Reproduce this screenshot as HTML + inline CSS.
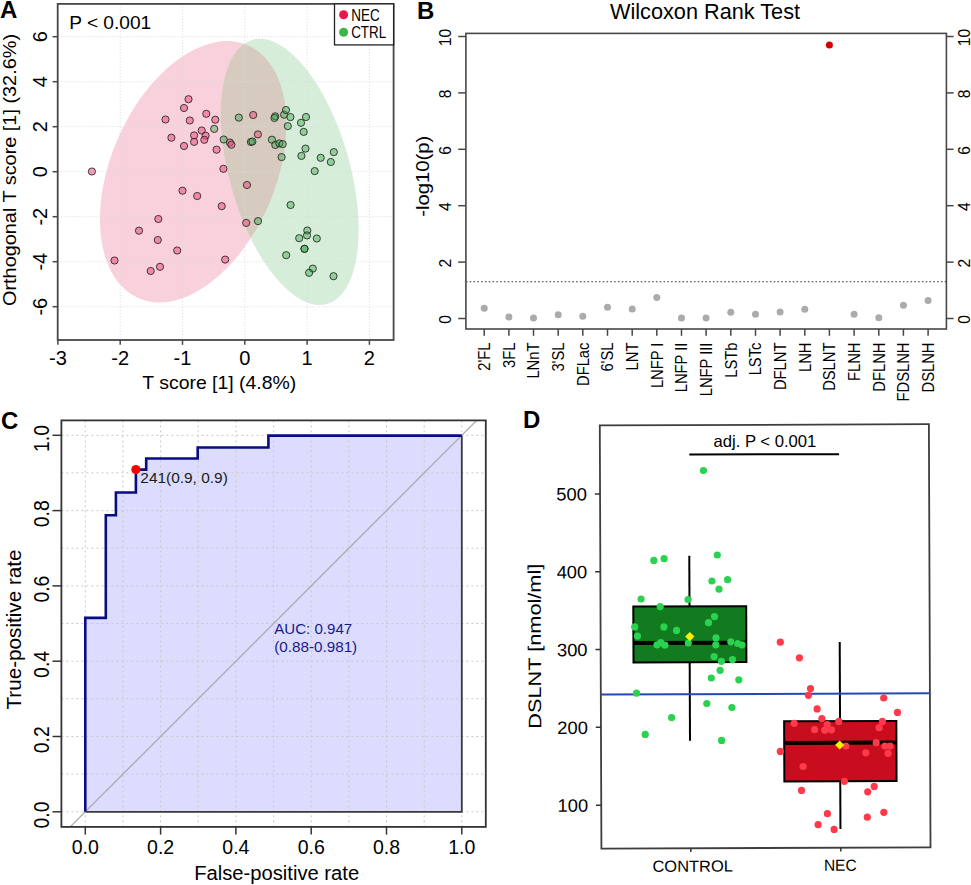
<!DOCTYPE html>
<html><head><meta charset="utf-8"><style>
html,body{margin:0;padding:0;background:#fff;}
svg{display:block;}
text{font-family:"Liberation Sans", sans-serif;}
</style></head><body>
<svg width="971" height="885" viewBox="0 0 971 885">
<rect x="0" y="0" width="971" height="885" fill="#fff"/>

<defs><clipPath id="pclip"><ellipse cx="193.2" cy="171.8" rx="137.8" ry="82.4" transform="rotate(-66.7 193.2 171.8)"/></clipPath></defs>
<ellipse cx="193.2" cy="171.8" rx="137.8" ry="82.4" transform="rotate(-66.7 193.2 171.8)" fill="#f9d1dd"/>
<ellipse cx="289.7" cy="171.85" rx="137.3" ry="60.3" transform="rotate(-105.75 289.7 171.85)" fill="#d6eed9"/>
<g clip-path="url(#pclip)"><ellipse cx="289.7" cy="171.85" rx="137.3" ry="60.3" transform="rotate(-105.75 289.7 171.85)" fill="#d6cbbe"/></g>
<line x1="120.2" y1="3.9" x2="120.2" y2="340.0" stroke="#dadada" stroke-width="1" stroke-dasharray="1 2"/>
<line x1="182.5" y1="3.9" x2="182.5" y2="340.0" stroke="#dadada" stroke-width="1" stroke-dasharray="1 2"/>
<line x1="244.8" y1="3.9" x2="244.8" y2="340.0" stroke="#dadada" stroke-width="1" stroke-dasharray="1 2"/>
<line x1="307.1" y1="3.9" x2="307.1" y2="340.0" stroke="#dadada" stroke-width="1" stroke-dasharray="1 2"/>
<line x1="369.4" y1="3.9" x2="369.4" y2="340.0" stroke="#dadada" stroke-width="1" stroke-dasharray="1 2"/>
<line x1="57.7" y1="306.7" x2="393.6" y2="306.7" stroke="#dadada" stroke-width="1" stroke-dasharray="1 2"/>
<line x1="57.7" y1="261.7" x2="393.6" y2="261.7" stroke="#dadada" stroke-width="1" stroke-dasharray="1 2"/>
<line x1="57.7" y1="216.7" x2="393.6" y2="216.7" stroke="#dadada" stroke-width="1" stroke-dasharray="1 2"/>
<line x1="57.7" y1="171.7" x2="393.6" y2="171.7" stroke="#dadada" stroke-width="1" stroke-dasharray="1 2"/>
<line x1="57.7" y1="126.7" x2="393.6" y2="126.7" stroke="#dadada" stroke-width="1" stroke-dasharray="1 2"/>
<line x1="57.7" y1="81.7" x2="393.6" y2="81.7" stroke="#dadada" stroke-width="1" stroke-dasharray="1 2"/>
<line x1="57.7" y1="36.7" x2="393.6" y2="36.7" stroke="#dadada" stroke-width="1" stroke-dasharray="1 2"/>
<circle cx="91.9" cy="171.5" r="3.6" fill="#ee4f7c" fill-opacity="0.55" stroke="#2a2a2a" stroke-width="0.9"/>
<circle cx="188.5" cy="99.2" r="3.6" fill="#ee4f7c" fill-opacity="0.55" stroke="#2a2a2a" stroke-width="0.9"/>
<circle cx="184.0" cy="108.0" r="3.6" fill="#ee4f7c" fill-opacity="0.55" stroke="#2a2a2a" stroke-width="0.9"/>
<circle cx="165.5" cy="119.5" r="3.6" fill="#ee4f7c" fill-opacity="0.55" stroke="#2a2a2a" stroke-width="0.9"/>
<circle cx="189.8" cy="120.5" r="3.6" fill="#ee4f7c" fill-opacity="0.55" stroke="#2a2a2a" stroke-width="0.9"/>
<circle cx="206.3" cy="113.8" r="3.6" fill="#ee4f7c" fill-opacity="0.55" stroke="#2a2a2a" stroke-width="0.9"/>
<circle cx="215.3" cy="119.7" r="3.6" fill="#ee4f7c" fill-opacity="0.55" stroke="#2a2a2a" stroke-width="0.9"/>
<circle cx="201.7" cy="130.5" r="3.6" fill="#ee4f7c" fill-opacity="0.55" stroke="#2a2a2a" stroke-width="0.9"/>
<circle cx="205.6" cy="135.7" r="3.6" fill="#ee4f7c" fill-opacity="0.55" stroke="#2a2a2a" stroke-width="0.9"/>
<circle cx="204.3" cy="139.8" r="3.6" fill="#ee4f7c" fill-opacity="0.55" stroke="#2a2a2a" stroke-width="0.9"/>
<circle cx="194.1" cy="135.4" r="3.6" fill="#ee4f7c" fill-opacity="0.55" stroke="#2a2a2a" stroke-width="0.9"/>
<circle cx="194.1" cy="141.9" r="3.6" fill="#ee4f7c" fill-opacity="0.55" stroke="#2a2a2a" stroke-width="0.9"/>
<circle cx="171.4" cy="137.7" r="3.6" fill="#ee4f7c" fill-opacity="0.55" stroke="#2a2a2a" stroke-width="0.9"/>
<circle cx="184.0" cy="146.0" r="3.6" fill="#ee4f7c" fill-opacity="0.55" stroke="#2a2a2a" stroke-width="0.9"/>
<circle cx="216.6" cy="149.7" r="3.6" fill="#ee4f7c" fill-opacity="0.55" stroke="#2a2a2a" stroke-width="0.9"/>
<circle cx="229.9" cy="142.5" r="3.6" fill="#ee4f7c" fill-opacity="0.55" stroke="#2a2a2a" stroke-width="0.9"/>
<circle cx="231.4" cy="144.7" r="3.6" fill="#ee4f7c" fill-opacity="0.55" stroke="#2a2a2a" stroke-width="0.9"/>
<circle cx="253.2" cy="115.0" r="3.6" fill="#ee4f7c" fill-opacity="0.55" stroke="#2a2a2a" stroke-width="0.9"/>
<circle cx="257.9" cy="134.4" r="3.6" fill="#ee4f7c" fill-opacity="0.55" stroke="#2a2a2a" stroke-width="0.9"/>
<circle cx="223.4" cy="168.8" r="3.6" fill="#ee4f7c" fill-opacity="0.55" stroke="#2a2a2a" stroke-width="0.9"/>
<circle cx="247.0" cy="185.0" r="3.6" fill="#ee4f7c" fill-opacity="0.55" stroke="#2a2a2a" stroke-width="0.9"/>
<circle cx="182.5" cy="190.7" r="3.6" fill="#ee4f7c" fill-opacity="0.55" stroke="#2a2a2a" stroke-width="0.9"/>
<circle cx="197.2" cy="196.0" r="3.6" fill="#ee4f7c" fill-opacity="0.55" stroke="#2a2a2a" stroke-width="0.9"/>
<circle cx="221.7" cy="206.2" r="3.6" fill="#ee4f7c" fill-opacity="0.55" stroke="#2a2a2a" stroke-width="0.9"/>
<circle cx="246.2" cy="222.9" r="3.6" fill="#ee4f7c" fill-opacity="0.55" stroke="#2a2a2a" stroke-width="0.9"/>
<circle cx="158.3" cy="219.0" r="3.6" fill="#ee4f7c" fill-opacity="0.55" stroke="#2a2a2a" stroke-width="0.9"/>
<circle cx="139.0" cy="230.7" r="3.6" fill="#ee4f7c" fill-opacity="0.55" stroke="#2a2a2a" stroke-width="0.9"/>
<circle cx="157.8" cy="240.0" r="3.6" fill="#ee4f7c" fill-opacity="0.55" stroke="#2a2a2a" stroke-width="0.9"/>
<circle cx="177.2" cy="250.5" r="3.6" fill="#ee4f7c" fill-opacity="0.55" stroke="#2a2a2a" stroke-width="0.9"/>
<circle cx="114.5" cy="260.5" r="3.6" fill="#ee4f7c" fill-opacity="0.55" stroke="#2a2a2a" stroke-width="0.9"/>
<circle cx="160.0" cy="266.8" r="3.6" fill="#ee4f7c" fill-opacity="0.55" stroke="#2a2a2a" stroke-width="0.9"/>
<circle cx="150.7" cy="271.0" r="3.6" fill="#ee4f7c" fill-opacity="0.55" stroke="#2a2a2a" stroke-width="0.9"/>
<circle cx="225.2" cy="259.6" r="3.6" fill="#ee4f7c" fill-opacity="0.55" stroke="#2a2a2a" stroke-width="0.9"/>
<circle cx="214.2" cy="128.9" r="3.6" fill="#3aa84a" fill-opacity="0.45" stroke="#2a2a2a" stroke-width="0.9"/>
<circle cx="238.8" cy="117.6" r="3.6" fill="#3aa84a" fill-opacity="0.45" stroke="#2a2a2a" stroke-width="0.9"/>
<circle cx="223.7" cy="139.5" r="3.6" fill="#3aa84a" fill-opacity="0.45" stroke="#2a2a2a" stroke-width="0.9"/>
<circle cx="250.9" cy="142.0" r="3.6" fill="#3aa84a" fill-opacity="0.45" stroke="#2a2a2a" stroke-width="0.9"/>
<circle cx="252.4" cy="141.5" r="3.6" fill="#3aa84a" fill-opacity="0.45" stroke="#2a2a2a" stroke-width="0.9"/>
<circle cx="271.9" cy="139.7" r="3.6" fill="#3aa84a" fill-opacity="0.45" stroke="#2a2a2a" stroke-width="0.9"/>
<circle cx="275.3" cy="145.0" r="3.6" fill="#3aa84a" fill-opacity="0.45" stroke="#2a2a2a" stroke-width="0.9"/>
<circle cx="279.3" cy="143.4" r="3.6" fill="#3aa84a" fill-opacity="0.45" stroke="#2a2a2a" stroke-width="0.9"/>
<circle cx="282.7" cy="144.1" r="3.6" fill="#3aa84a" fill-opacity="0.45" stroke="#2a2a2a" stroke-width="0.9"/>
<circle cx="275.2" cy="116.3" r="3.6" fill="#3aa84a" fill-opacity="0.45" stroke="#2a2a2a" stroke-width="0.9"/>
<circle cx="274.5" cy="118.0" r="3.6" fill="#3aa84a" fill-opacity="0.45" stroke="#2a2a2a" stroke-width="0.9"/>
<circle cx="284.1" cy="114.7" r="3.6" fill="#3aa84a" fill-opacity="0.45" stroke="#2a2a2a" stroke-width="0.9"/>
<circle cx="286.0" cy="110.0" r="3.6" fill="#3aa84a" fill-opacity="0.45" stroke="#2a2a2a" stroke-width="0.9"/>
<circle cx="290.4" cy="117.1" r="3.6" fill="#3aa84a" fill-opacity="0.45" stroke="#2a2a2a" stroke-width="0.9"/>
<circle cx="287.8" cy="126.1" r="3.6" fill="#3aa84a" fill-opacity="0.45" stroke="#2a2a2a" stroke-width="0.9"/>
<circle cx="281.6" cy="157.1" r="3.6" fill="#3aa84a" fill-opacity="0.45" stroke="#2a2a2a" stroke-width="0.9"/>
<circle cx="301.0" cy="122.8" r="3.6" fill="#3aa84a" fill-opacity="0.45" stroke="#2a2a2a" stroke-width="0.9"/>
<circle cx="306.0" cy="117.0" r="3.6" fill="#3aa84a" fill-opacity="0.45" stroke="#2a2a2a" stroke-width="0.9"/>
<circle cx="303.7" cy="131.9" r="3.6" fill="#3aa84a" fill-opacity="0.45" stroke="#2a2a2a" stroke-width="0.9"/>
<circle cx="305.5" cy="148.6" r="3.6" fill="#3aa84a" fill-opacity="0.45" stroke="#2a2a2a" stroke-width="0.9"/>
<circle cx="301.4" cy="155.9" r="3.6" fill="#3aa84a" fill-opacity="0.45" stroke="#2a2a2a" stroke-width="0.9"/>
<circle cx="314.7" cy="171.1" r="3.6" fill="#3aa84a" fill-opacity="0.45" stroke="#2a2a2a" stroke-width="0.9"/>
<circle cx="320.7" cy="157.8" r="3.6" fill="#3aa84a" fill-opacity="0.45" stroke="#2a2a2a" stroke-width="0.9"/>
<circle cx="333.8" cy="152.1" r="3.6" fill="#3aa84a" fill-opacity="0.45" stroke="#2a2a2a" stroke-width="0.9"/>
<circle cx="330.8" cy="162.0" r="3.6" fill="#3aa84a" fill-opacity="0.45" stroke="#2a2a2a" stroke-width="0.9"/>
<circle cx="290.6" cy="205.0" r="3.6" fill="#3aa84a" fill-opacity="0.45" stroke="#2a2a2a" stroke-width="0.9"/>
<circle cx="307.3" cy="230.5" r="3.6" fill="#3aa84a" fill-opacity="0.45" stroke="#2a2a2a" stroke-width="0.9"/>
<circle cx="307.0" cy="235.4" r="3.6" fill="#3aa84a" fill-opacity="0.45" stroke="#2a2a2a" stroke-width="0.9"/>
<circle cx="299.2" cy="238.2" r="3.6" fill="#3aa84a" fill-opacity="0.45" stroke="#2a2a2a" stroke-width="0.9"/>
<circle cx="316.8" cy="238.5" r="3.6" fill="#3aa84a" fill-opacity="0.45" stroke="#2a2a2a" stroke-width="0.9"/>
<circle cx="304.5" cy="248.8" r="3.6" fill="#3aa84a" fill-opacity="0.45" stroke="#2a2a2a" stroke-width="0.9"/>
<circle cx="304.5" cy="248.8" r="3.6" fill="#3aa84a" fill-opacity="0.45" stroke="#2a2a2a" stroke-width="0.9"/>
<circle cx="286.2" cy="255.2" r="3.6" fill="#3aa84a" fill-opacity="0.45" stroke="#2a2a2a" stroke-width="0.9"/>
<circle cx="312.8" cy="268.6" r="3.6" fill="#3aa84a" fill-opacity="0.45" stroke="#2a2a2a" stroke-width="0.9"/>
<circle cx="309.1" cy="272.8" r="3.6" fill="#3aa84a" fill-opacity="0.45" stroke="#2a2a2a" stroke-width="0.9"/>
<circle cx="333.5" cy="276.2" r="3.6" fill="#3aa84a" fill-opacity="0.45" stroke="#2a2a2a" stroke-width="0.9"/>
<circle cx="258.0" cy="221.1" r="3.6" fill="#3aa84a" fill-opacity="0.45" stroke="#2a2a2a" stroke-width="0.9"/>
<rect x="57.7" y="3.9" width="335.9" height="336.1" fill="none" stroke="#474747" stroke-width="1.8"/>
<line x1="57.9" y1="340.0" x2="57.9" y2="344.8" stroke="#474747" stroke-width="1.5"/>
<text x="57.9" y="365.4" font-size="20" text-anchor="middle" fill="#000">-3</text>
<line x1="120.2" y1="340.0" x2="120.2" y2="344.8" stroke="#474747" stroke-width="1.5"/>
<text x="120.2" y="365.4" font-size="20" text-anchor="middle" fill="#000">-2</text>
<line x1="182.5" y1="340.0" x2="182.5" y2="344.8" stroke="#474747" stroke-width="1.5"/>
<text x="182.5" y="365.4" font-size="20" text-anchor="middle" fill="#000">-1</text>
<line x1="244.8" y1="340.0" x2="244.8" y2="344.8" stroke="#474747" stroke-width="1.5"/>
<text x="244.8" y="365.4" font-size="20" text-anchor="middle" fill="#000">0</text>
<line x1="307.1" y1="340.0" x2="307.1" y2="344.8" stroke="#474747" stroke-width="1.5"/>
<text x="307.1" y="365.4" font-size="20" text-anchor="middle" fill="#000">1</text>
<line x1="369.4" y1="340.0" x2="369.4" y2="344.8" stroke="#474747" stroke-width="1.5"/>
<text x="369.4" y="365.4" font-size="20" text-anchor="middle" fill="#000">2</text>
<line x1="52.6" y1="306.7" x2="57.7" y2="306.7" stroke="#474747" stroke-width="1.5"/>
<text x="47.0" y="306.7" font-size="20" text-anchor="middle" fill="#000" transform="rotate(-90 47.0 306.7)">-6</text>
<line x1="52.6" y1="261.7" x2="57.7" y2="261.7" stroke="#474747" stroke-width="1.5"/>
<text x="47.0" y="261.7" font-size="20" text-anchor="middle" fill="#000" transform="rotate(-90 47.0 261.7)">-4</text>
<line x1="52.6" y1="216.7" x2="57.7" y2="216.7" stroke="#474747" stroke-width="1.5"/>
<text x="47.0" y="216.7" font-size="20" text-anchor="middle" fill="#000" transform="rotate(-90 47.0 216.7)">-2</text>
<line x1="52.6" y1="171.7" x2="57.7" y2="171.7" stroke="#474747" stroke-width="1.5"/>
<text x="47.0" y="171.7" font-size="20" text-anchor="middle" fill="#000" transform="rotate(-90 47.0 171.7)">0</text>
<line x1="52.6" y1="126.7" x2="57.7" y2="126.7" stroke="#474747" stroke-width="1.5"/>
<text x="47.0" y="126.7" font-size="20" text-anchor="middle" fill="#000" transform="rotate(-90 47.0 126.7)">2</text>
<line x1="52.6" y1="81.7" x2="57.7" y2="81.7" stroke="#474747" stroke-width="1.5"/>
<text x="47.0" y="81.7" font-size="20" text-anchor="middle" fill="#000" transform="rotate(-90 47.0 81.7)">4</text>
<line x1="52.6" y1="36.7" x2="57.7" y2="36.7" stroke="#474747" stroke-width="1.5"/>
<text x="47.0" y="36.7" font-size="20" text-anchor="middle" fill="#000" transform="rotate(-90 47.0 36.7)">6</text>
<text x="219.3" y="389.0" font-size="19" text-anchor="middle" fill="#000" textLength="154" lengthAdjust="spacingAndGlyphs">T score [1] (4.8%)</text>
<text x="15.8" y="170.0" font-size="19" text-anchor="middle" fill="#000" transform="rotate(-90 15.8 170.0)" textLength="272" lengthAdjust="spacingAndGlyphs">Orthogonal T score [1] (32.6%)</text>
<text x="69.2" y="29.2" font-size="19" text-anchor="start" fill="#000" textLength="82" lengthAdjust="spacingAndGlyphs">P &lt; 0.001</text>
<rect x="334.5" y="3.9" width="59.1" height="41" fill="#fff" stroke="#222" stroke-width="1.3"/>
<circle cx="343.6" cy="14.8" r="4.5" fill="#e8194a"/>
<circle cx="343.6" cy="32.3" r="4.5" fill="#3cb648"/>
<text x="351.2" y="21.1" font-size="16" text-anchor="start" fill="#000" textLength="28.5" lengthAdjust="spacingAndGlyphs">NEC</text>
<text x="351.2" y="37.9" font-size="16" text-anchor="start" fill="#000" textLength="35" lengthAdjust="spacingAndGlyphs">CTRL</text>
<text x="0" y="18.2" font-size="24" text-anchor="start" fill="#000" font-weight="bold">A</text>
<line x1="465.9" y1="281.8" x2="946.4" y2="281.8" stroke="#333" stroke-width="1.1" stroke-dasharray="1.6 2.2"/>
<circle cx="484.2" cy="308.3" r="3.5" fill="#ababab"/>
<line x1="484.2" y1="329.0" x2="484.2" y2="335.8" stroke="#474747" stroke-width="1.5"/>
<text x="0" y="0" font-size="16" text-anchor="end" transform="translate(490.0 342.6) rotate(-90) scale(0.92 1)">2&#39;FL</text>
<circle cx="508.9" cy="317.1" r="3.5" fill="#ababab"/>
<line x1="508.9" y1="329.0" x2="508.9" y2="335.8" stroke="#474747" stroke-width="1.5"/>
<text x="0" y="0" font-size="16" text-anchor="end" transform="translate(514.7 342.6) rotate(-90) scale(0.92 1)">3FL</text>
<circle cx="533.5" cy="317.9" r="3.5" fill="#ababab"/>
<line x1="533.5" y1="329.0" x2="533.5" y2="335.8" stroke="#474747" stroke-width="1.5"/>
<text x="0" y="0" font-size="16" text-anchor="end" transform="translate(539.3 342.6) rotate(-90) scale(0.92 1)">LNnT</text>
<circle cx="558.2" cy="314.8" r="3.5" fill="#ababab"/>
<line x1="558.2" y1="329.0" x2="558.2" y2="335.8" stroke="#474747" stroke-width="1.5"/>
<text x="0" y="0" font-size="16" text-anchor="end" transform="translate(564.0 342.6) rotate(-90) scale(0.92 1)">3&#39;SL</text>
<circle cx="582.8" cy="316.2" r="3.5" fill="#ababab"/>
<line x1="582.8" y1="329.0" x2="582.8" y2="335.8" stroke="#474747" stroke-width="1.5"/>
<text x="0" y="0" font-size="16" text-anchor="end" transform="translate(588.6 342.6) rotate(-90) scale(0.92 1)">DFLac</text>
<circle cx="607.5" cy="307.2" r="3.5" fill="#ababab"/>
<line x1="607.5" y1="329.0" x2="607.5" y2="335.8" stroke="#474747" stroke-width="1.5"/>
<text x="0" y="0" font-size="16" text-anchor="end" transform="translate(613.3 342.6) rotate(-90) scale(0.92 1)">6&#39;SL</text>
<circle cx="632.2" cy="308.9" r="3.5" fill="#ababab"/>
<line x1="632.2" y1="329.0" x2="632.2" y2="335.8" stroke="#474747" stroke-width="1.5"/>
<text x="0" y="0" font-size="16" text-anchor="end" transform="translate(638.0 342.6) rotate(-90) scale(0.92 1)">LNT</text>
<circle cx="656.8" cy="297.6" r="3.5" fill="#ababab"/>
<line x1="656.8" y1="329.0" x2="656.8" y2="335.8" stroke="#474747" stroke-width="1.5"/>
<text x="0" y="0" font-size="16" text-anchor="end" transform="translate(662.6 342.6) rotate(-90) scale(0.92 1)">LNFP I</text>
<circle cx="681.5" cy="317.9" r="3.5" fill="#ababab"/>
<line x1="681.5" y1="329.0" x2="681.5" y2="335.8" stroke="#474747" stroke-width="1.5"/>
<text x="0" y="0" font-size="16" text-anchor="end" transform="translate(687.3 342.6) rotate(-90) scale(0.92 1)">LNFP II</text>
<circle cx="706.1" cy="317.9" r="3.5" fill="#ababab"/>
<line x1="706.1" y1="329.0" x2="706.1" y2="335.8" stroke="#474747" stroke-width="1.5"/>
<text x="0" y="0" font-size="16" text-anchor="end" transform="translate(711.9 342.6) rotate(-90) scale(0.92 1)">LNFP III</text>
<circle cx="730.8" cy="312.3" r="3.5" fill="#ababab"/>
<line x1="730.8" y1="329.0" x2="730.8" y2="335.8" stroke="#474747" stroke-width="1.5"/>
<text x="0" y="0" font-size="16" text-anchor="end" transform="translate(736.6 342.6) rotate(-90) scale(0.92 1)">LSTb</text>
<circle cx="755.5" cy="314.3" r="3.5" fill="#ababab"/>
<line x1="755.5" y1="329.0" x2="755.5" y2="335.8" stroke="#474747" stroke-width="1.5"/>
<text x="0" y="0" font-size="16" text-anchor="end" transform="translate(761.3 342.6) rotate(-90) scale(0.92 1)">LSTc</text>
<circle cx="780.1" cy="312.0" r="3.5" fill="#ababab"/>
<line x1="780.1" y1="329.0" x2="780.1" y2="335.8" stroke="#474747" stroke-width="1.5"/>
<text x="0" y="0" font-size="16" text-anchor="end" transform="translate(785.9 342.6) rotate(-90) scale(0.92 1)">DFLNT</text>
<circle cx="804.8" cy="309.2" r="3.5" fill="#ababab"/>
<line x1="804.8" y1="329.0" x2="804.8" y2="335.8" stroke="#474747" stroke-width="1.5"/>
<text x="0" y="0" font-size="16" text-anchor="end" transform="translate(810.6 342.6) rotate(-90) scale(0.92 1)">LNH</text>
<circle cx="829.4" cy="45.0" r="3.5" fill="#d40000"/>
<line x1="829.4" y1="329.0" x2="829.4" y2="335.8" stroke="#474747" stroke-width="1.5"/>
<text x="0" y="0" font-size="16" text-anchor="end" transform="translate(835.2 342.6) rotate(-90) scale(0.92 1)">DSLNT</text>
<circle cx="854.1" cy="314.3" r="3.5" fill="#ababab"/>
<line x1="854.1" y1="329.0" x2="854.1" y2="335.8" stroke="#474747" stroke-width="1.5"/>
<text x="0" y="0" font-size="16" text-anchor="end" transform="translate(859.9 342.6) rotate(-90) scale(0.92 1)">FLNH</text>
<circle cx="878.8" cy="317.7" r="3.5" fill="#ababab"/>
<line x1="878.8" y1="329.0" x2="878.8" y2="335.8" stroke="#474747" stroke-width="1.5"/>
<text x="0" y="0" font-size="16" text-anchor="end" transform="translate(884.6 342.6) rotate(-90) scale(0.92 1)">DFLNH</text>
<circle cx="903.4" cy="305.2" r="3.5" fill="#ababab"/>
<line x1="903.4" y1="329.0" x2="903.4" y2="335.8" stroke="#474747" stroke-width="1.5"/>
<text x="0" y="0" font-size="16" text-anchor="end" transform="translate(909.2 342.6) rotate(-90) scale(0.92 1)">FDSLNH</text>
<circle cx="928.1" cy="300.5" r="3.5" fill="#ababab"/>
<line x1="928.1" y1="329.0" x2="928.1" y2="335.8" stroke="#474747" stroke-width="1.5"/>
<text x="0" y="0" font-size="16" text-anchor="end" transform="translate(933.9 342.6) rotate(-90) scale(0.92 1)">DSLNH</text>
<rect x="465.9" y="33.4" width="480.5" height="295.6" fill="none" stroke="#474747" stroke-width="1.6"/>
<line x1="458.2" y1="318.5" x2="465.9" y2="318.5" stroke="#474747" stroke-width="1.5"/>
<line x1="946.4" y1="318.5" x2="953.6" y2="318.5" stroke="#474747" stroke-width="1.5"/>
<text x="451.3" y="319.5" font-size="15.6" text-anchor="middle" fill="#000" transform="rotate(-90 451.3 319.5)">0</text>
<text x="969.8" y="319.5" font-size="15.6" text-anchor="middle" fill="#000" transform="rotate(-90 969.8 319.5)">0</text>
<line x1="458.2" y1="262.1" x2="465.9" y2="262.1" stroke="#474747" stroke-width="1.5"/>
<line x1="946.4" y1="262.1" x2="953.6" y2="262.1" stroke="#474747" stroke-width="1.5"/>
<text x="451.3" y="263.1" font-size="15.6" text-anchor="middle" fill="#000" transform="rotate(-90 451.3 263.1)">2</text>
<text x="969.8" y="263.1" font-size="15.6" text-anchor="middle" fill="#000" transform="rotate(-90 969.8 263.1)">2</text>
<line x1="458.2" y1="205.7" x2="465.9" y2="205.7" stroke="#474747" stroke-width="1.5"/>
<line x1="946.4" y1="205.7" x2="953.6" y2="205.7" stroke="#474747" stroke-width="1.5"/>
<text x="451.3" y="206.7" font-size="15.6" text-anchor="middle" fill="#000" transform="rotate(-90 451.3 206.7)">4</text>
<text x="969.8" y="206.7" font-size="15.6" text-anchor="middle" fill="#000" transform="rotate(-90 969.8 206.7)">4</text>
<line x1="458.2" y1="149.3" x2="465.9" y2="149.3" stroke="#474747" stroke-width="1.5"/>
<line x1="946.4" y1="149.3" x2="953.6" y2="149.3" stroke="#474747" stroke-width="1.5"/>
<text x="451.3" y="150.3" font-size="15.6" text-anchor="middle" fill="#000" transform="rotate(-90 451.3 150.3)">6</text>
<text x="969.8" y="150.3" font-size="15.6" text-anchor="middle" fill="#000" transform="rotate(-90 969.8 150.3)">6</text>
<line x1="458.2" y1="92.9" x2="465.9" y2="92.9" stroke="#474747" stroke-width="1.5"/>
<line x1="946.4" y1="92.9" x2="953.6" y2="92.9" stroke="#474747" stroke-width="1.5"/>
<text x="451.3" y="93.9" font-size="15.6" text-anchor="middle" fill="#000" transform="rotate(-90 451.3 93.9)">8</text>
<text x="969.8" y="93.9" font-size="15.6" text-anchor="middle" fill="#000" transform="rotate(-90 969.8 93.9)">8</text>
<line x1="458.2" y1="36.5" x2="465.9" y2="36.5" stroke="#474747" stroke-width="1.5"/>
<line x1="946.4" y1="36.5" x2="953.6" y2="36.5" stroke="#474747" stroke-width="1.5"/>
<text x="451.3" y="37.5" font-size="15.6" text-anchor="middle" fill="#000" transform="rotate(-90 451.3 37.5)">10</text>
<text x="969.8" y="37.5" font-size="15.6" text-anchor="middle" fill="#000" transform="rotate(-90 969.8 37.5)">10</text>
<text x="429.3" y="176.3" font-size="19" text-anchor="middle" fill="#000" transform="rotate(-90 429.3 176.3)" textLength="81" lengthAdjust="spacingAndGlyphs">-log10(p)</text>
<text x="705.0" y="19.2" font-size="21.5" text-anchor="middle" fill="#000" textLength="190" lengthAdjust="spacingAndGlyphs">Wilcoxon Rank Test</text>
<text x="417.0" y="18.7" font-size="24" text-anchor="start" fill="#000" font-weight="bold">B</text>
<path d="M 85.3 811.8 V 617.9 H 105.8 V 515.2 H 115.9 V 492.5 H 135.9 V 469.6 H 146.2 V 458.5 H 197.7 V 447.5 H 268.4 V 435.6 H 461.8 V 811.8 Z" fill="#dcdcff"/>
<line x1="85.3" y1="420.4" x2="85.3" y2="826.9" stroke="#c8c8c8" stroke-width="1" stroke-dasharray="2 3"/>
<line x1="61.4" y1="811.8" x2="485.8" y2="811.8" stroke="#c8c8c8" stroke-width="1" stroke-dasharray="2 3"/>
<line x1="122.9" y1="420.4" x2="122.9" y2="826.9" stroke="#c8c8c8" stroke-width="1" stroke-dasharray="2 3"/>
<line x1="61.4" y1="774.1" x2="485.8" y2="774.1" stroke="#c8c8c8" stroke-width="1" stroke-dasharray="2 3"/>
<line x1="160.6" y1="420.4" x2="160.6" y2="826.9" stroke="#c8c8c8" stroke-width="1" stroke-dasharray="2 3"/>
<line x1="61.4" y1="736.5" x2="485.8" y2="736.5" stroke="#c8c8c8" stroke-width="1" stroke-dasharray="2 3"/>
<line x1="198.2" y1="420.4" x2="198.2" y2="826.9" stroke="#c8c8c8" stroke-width="1" stroke-dasharray="2 3"/>
<line x1="61.4" y1="698.8" x2="485.8" y2="698.8" stroke="#c8c8c8" stroke-width="1" stroke-dasharray="2 3"/>
<line x1="235.9" y1="420.4" x2="235.9" y2="826.9" stroke="#c8c8c8" stroke-width="1" stroke-dasharray="2 3"/>
<line x1="61.4" y1="661.2" x2="485.8" y2="661.2" stroke="#c8c8c8" stroke-width="1" stroke-dasharray="2 3"/>
<line x1="273.6" y1="420.4" x2="273.6" y2="826.9" stroke="#c8c8c8" stroke-width="1" stroke-dasharray="2 3"/>
<line x1="61.4" y1="623.5" x2="485.8" y2="623.5" stroke="#c8c8c8" stroke-width="1" stroke-dasharray="2 3"/>
<line x1="311.2" y1="420.4" x2="311.2" y2="826.9" stroke="#c8c8c8" stroke-width="1" stroke-dasharray="2 3"/>
<line x1="61.4" y1="585.9" x2="485.8" y2="585.9" stroke="#c8c8c8" stroke-width="1" stroke-dasharray="2 3"/>
<line x1="348.9" y1="420.4" x2="348.9" y2="826.9" stroke="#c8c8c8" stroke-width="1" stroke-dasharray="2 3"/>
<line x1="61.4" y1="548.2" x2="485.8" y2="548.2" stroke="#c8c8c8" stroke-width="1" stroke-dasharray="2 3"/>
<line x1="386.5" y1="420.4" x2="386.5" y2="826.9" stroke="#c8c8c8" stroke-width="1" stroke-dasharray="2 3"/>
<line x1="61.4" y1="510.6" x2="485.8" y2="510.6" stroke="#c8c8c8" stroke-width="1" stroke-dasharray="2 3"/>
<line x1="424.2" y1="420.4" x2="424.2" y2="826.9" stroke="#c8c8c8" stroke-width="1" stroke-dasharray="2 3"/>
<line x1="61.4" y1="472.9" x2="485.8" y2="472.9" stroke="#c8c8c8" stroke-width="1" stroke-dasharray="2 3"/>
<line x1="461.8" y1="420.4" x2="461.8" y2="826.9" stroke="#c8c8c8" stroke-width="1" stroke-dasharray="2 3"/>
<line x1="61.4" y1="435.3" x2="485.8" y2="435.3" stroke="#c8c8c8" stroke-width="1" stroke-dasharray="2 3"/>
<path d="M 461.8 435.6 V 811.8 H 85.3" fill="none" stroke="#3a3a3a" stroke-width="1.8"/>
<line x1="70.2" y1="826.9" x2="476.7" y2="420.4" stroke="#a8a8a8" stroke-width="1.3"/>
<path d="M 85.3 811.8 V 617.9 H 105.8 V 515.2 H 115.9 V 492.5 H 135.9 V 469.6 H 146.2 V 458.5 H 197.7 V 447.5 H 268.4 V 435.6 H 461.8" fill="none" stroke="#0b0b82" stroke-width="2.6"/>
<rect x="61.4" y="420.4" width="424.4" height="406.5" fill="none" stroke="#333" stroke-width="1.8"/>
<line x1="85.3" y1="826.9" x2="85.3" y2="834.6" stroke="#333" stroke-width="1.5"/>
<line x1="52.5" y1="811.8" x2="61.4" y2="811.8" stroke="#333" stroke-width="1.5"/>
<text x="85.3" y="854.0" font-size="19.5" text-anchor="middle" fill="#000">0.0</text>
<text x="49.4" y="815.0" font-size="21.5" text-anchor="middle" fill="#000" transform="rotate(-90 49.4 815.0)" textLength="27" lengthAdjust="spacingAndGlyphs">0.0</text>
<line x1="160.6" y1="826.9" x2="160.6" y2="834.6" stroke="#333" stroke-width="1.5"/>
<line x1="52.5" y1="736.5" x2="61.4" y2="736.5" stroke="#333" stroke-width="1.5"/>
<text x="160.6" y="854.0" font-size="19.5" text-anchor="middle" fill="#000">0.2</text>
<text x="49.4" y="739.7" font-size="21.5" text-anchor="middle" fill="#000" transform="rotate(-90 49.4 739.7)" textLength="27" lengthAdjust="spacingAndGlyphs">0.2</text>
<line x1="235.9" y1="826.9" x2="235.9" y2="834.6" stroke="#333" stroke-width="1.5"/>
<line x1="52.5" y1="661.2" x2="61.4" y2="661.2" stroke="#333" stroke-width="1.5"/>
<text x="235.9" y="854.0" font-size="19.5" text-anchor="middle" fill="#000">0.4</text>
<text x="49.4" y="664.4" font-size="21.5" text-anchor="middle" fill="#000" transform="rotate(-90 49.4 664.4)" textLength="27" lengthAdjust="spacingAndGlyphs">0.4</text>
<line x1="311.2" y1="826.9" x2="311.2" y2="834.6" stroke="#333" stroke-width="1.5"/>
<line x1="52.5" y1="585.9" x2="61.4" y2="585.9" stroke="#333" stroke-width="1.5"/>
<text x="311.2" y="854.0" font-size="19.5" text-anchor="middle" fill="#000">0.6</text>
<text x="49.4" y="589.1" font-size="21.5" text-anchor="middle" fill="#000" transform="rotate(-90 49.4 589.1)" textLength="27" lengthAdjust="spacingAndGlyphs">0.6</text>
<line x1="386.5" y1="826.9" x2="386.5" y2="834.6" stroke="#333" stroke-width="1.5"/>
<line x1="52.5" y1="510.6" x2="61.4" y2="510.6" stroke="#333" stroke-width="1.5"/>
<text x="386.5" y="854.0" font-size="19.5" text-anchor="middle" fill="#000">0.8</text>
<text x="49.4" y="513.8" font-size="21.5" text-anchor="middle" fill="#000" transform="rotate(-90 49.4 513.8)" textLength="27" lengthAdjust="spacingAndGlyphs">0.8</text>
<line x1="461.8" y1="826.9" x2="461.8" y2="834.6" stroke="#333" stroke-width="1.5"/>
<line x1="52.5" y1="435.3" x2="61.4" y2="435.3" stroke="#333" stroke-width="1.5"/>
<text x="461.8" y="854.0" font-size="19.5" text-anchor="middle" fill="#000">1.0</text>
<text x="49.4" y="438.5" font-size="21.5" text-anchor="middle" fill="#000" transform="rotate(-90 49.4 438.5)" textLength="27" lengthAdjust="spacingAndGlyphs">1.0</text>
<circle cx="135.9" cy="469.6" r="4.6" fill="#ff0000"/>
<text x="140.3" y="483.0" font-size="15.5" text-anchor="start" fill="#1a1a1a" textLength="87.5" lengthAdjust="spacingAndGlyphs">241(0.9, 0.9)</text>
<text x="274.2" y="634.4" font-size="15" text-anchor="start" fill="#1a1a8a" textLength="78" lengthAdjust="spacingAndGlyphs">AUC: 0.947</text>
<text x="274.2" y="652.4" font-size="15" text-anchor="start" fill="#1a1a8a" textLength="83" lengthAdjust="spacingAndGlyphs">(0.88-0.981)</text>
<text x="276.7" y="880.3" font-size="19.5" text-anchor="middle" fill="#000" textLength="165" lengthAdjust="spacingAndGlyphs">False-positive rate</text>
<text x="20.5" y="629.5" font-size="19.5" text-anchor="middle" fill="#000" transform="rotate(-90 20.5 629.5)" textLength="160" lengthAdjust="spacingAndGlyphs">True-positive rate</text>
<text x="1.0" y="428.5" font-size="24" text-anchor="start" fill="#000" font-weight="bold">C</text>
<g transform="rotate(-0.22 765 636)">
<rect x="600.6" y="424.8" width="329.1" height="423.2" fill="none" stroke="#3e3e3e" stroke-width="1.8"/>
<line x1="595.4" y1="804.5" x2="600.6" y2="804.5" stroke="#333" stroke-width="1.5"/>
<text x="587.5" y="811.0" font-size="18" text-anchor="end" fill="#000" textLength="30.6" lengthAdjust="spacingAndGlyphs">100</text>
<line x1="595.4" y1="726.7" x2="600.6" y2="726.7" stroke="#333" stroke-width="1.5"/>
<text x="587.5" y="733.2" font-size="18" text-anchor="end" fill="#000" textLength="30.6" lengthAdjust="spacingAndGlyphs">200</text>
<line x1="595.4" y1="648.9" x2="600.6" y2="648.9" stroke="#333" stroke-width="1.5"/>
<text x="587.5" y="655.4" font-size="18" text-anchor="end" fill="#000" textLength="30.6" lengthAdjust="spacingAndGlyphs">300</text>
<line x1="595.4" y1="571.1" x2="600.6" y2="571.1" stroke="#333" stroke-width="1.5"/>
<text x="587.5" y="577.6" font-size="18" text-anchor="end" fill="#000" textLength="30.6" lengthAdjust="spacingAndGlyphs">400</text>
<line x1="595.4" y1="493.3" x2="600.6" y2="493.3" stroke="#333" stroke-width="1.5"/>
<text x="587.5" y="499.8" font-size="18" text-anchor="end" fill="#000" textLength="30.6" lengthAdjust="spacingAndGlyphs">500</text>
<line x1="690.0" y1="848.0" x2="690.0" y2="851.8" stroke="#333" stroke-width="1.5"/>
<line x1="840.0" y1="848.0" x2="840.0" y2="851.8" stroke="#333" stroke-width="1.5"/>
<text x="691.8" y="871.4" font-size="16" text-anchor="middle" fill="#000" textLength="80.5" lengthAdjust="spacingAndGlyphs">CONTROL</text>
<text x="839.4" y="871.0" font-size="16" text-anchor="middle" fill="#000" textLength="32.8" lengthAdjust="spacingAndGlyphs">NEC</text>
<text x="540.8" y="645.3" font-size="18" text-anchor="middle" fill="#000" transform="rotate(-90 540.8 645.3)" textLength="165" lengthAdjust="spacingAndGlyphs">DSLNT [nmol/ml]</text>
<line x1="689.6" y1="555.5" x2="689.6" y2="740.5" stroke="#000" stroke-width="2"/>
<rect x="633.4" y="606.1" width="112.9" height="55.8" fill="#127b1f" stroke="#000" stroke-width="2"/>
<line x1="633.4" y1="642.6" x2="746.3" y2="642.6" stroke="#000" stroke-width="4"/>
<line x1="839.7" y1="642.3" x2="839.7" y2="829.3" stroke="#000" stroke-width="2"/>
<rect x="783.8" y="721.4" width="112.2" height="60.2" fill="#c80e1e" stroke="#000" stroke-width="2"/>
<line x1="783.8" y1="743.1" x2="896.0" y2="743.1" stroke="#000" stroke-width="4"/>
</g>
<line x1="600.6" y1="694.6" x2="929.6" y2="693.3" stroke="#2448b8" stroke-width="2"/>
<circle cx="703.45" cy="470.5" r="3.6" fill="#2ad24f"/>
<circle cx="653.8" cy="560.4" r="3.6" fill="#2ad24f"/>
<circle cx="664.1" cy="558.7" r="3.6" fill="#2ad24f"/>
<circle cx="717.3" cy="555.0" r="3.6" fill="#2ad24f"/>
<circle cx="711.9" cy="581.0" r="3.6" fill="#2ad24f"/>
<circle cx="727.6" cy="579.7" r="3.6" fill="#2ad24f"/>
<circle cx="719.0" cy="589.2" r="3.6" fill="#2ad24f"/>
<circle cx="641.1" cy="599.0" r="3.6" fill="#2ad24f"/>
<circle cx="688.1" cy="599.5" r="3.6" fill="#2ad24f"/>
<circle cx="660.2" cy="606.6" r="3.6" fill="#2ad24f"/>
<circle cx="714.5" cy="616.6" r="3.6" fill="#2ad24f"/>
<circle cx="708.5" cy="622.7" r="3.6" fill="#2ad24f"/>
<circle cx="634.7" cy="626.9" r="3.6" fill="#2ad24f"/>
<circle cx="663.9" cy="626.9" r="3.6" fill="#2ad24f"/>
<circle cx="676.5" cy="630.4" r="3.6" fill="#2ad24f"/>
<circle cx="637.4" cy="636.2" r="3.6" fill="#2ad24f"/>
<circle cx="716.0" cy="637.9" r="3.6" fill="#2ad24f"/>
<circle cx="730.8" cy="641.8" r="3.6" fill="#2ad24f"/>
<circle cx="657.0" cy="644.8" r="3.6" fill="#2ad24f"/>
<circle cx="660.8" cy="642.6" r="3.6" fill="#2ad24f"/>
<circle cx="664.9" cy="645.2" r="3.6" fill="#2ad24f"/>
<circle cx="688.3" cy="643.0" r="3.6" fill="#2ad24f"/>
<circle cx="715.8" cy="644.8" r="3.6" fill="#2ad24f"/>
<circle cx="737.7" cy="643.5" r="3.6" fill="#2ad24f"/>
<circle cx="742.0" cy="644.8" r="3.6" fill="#2ad24f"/>
<circle cx="714.1" cy="656.6" r="3.6" fill="#2ad24f"/>
<circle cx="721.4" cy="661.3" r="3.6" fill="#2ad24f"/>
<circle cx="732.5" cy="659.6" r="3.6" fill="#2ad24f"/>
<circle cx="720.1" cy="670.3" r="3.6" fill="#2ad24f"/>
<circle cx="711.3" cy="678.0" r="3.6" fill="#2ad24f"/>
<circle cx="738.8" cy="679.8" r="3.6" fill="#2ad24f"/>
<circle cx="636.5" cy="693.2" r="3.6" fill="#2ad24f"/>
<circle cx="706.8" cy="703.5" r="3.6" fill="#2ad24f"/>
<circle cx="731.9" cy="707.5" r="3.6" fill="#2ad24f"/>
<circle cx="671.6" cy="717.6" r="3.6" fill="#2ad24f"/>
<circle cx="645.2" cy="734.4" r="3.6" fill="#2ad24f"/>
<circle cx="721.6" cy="740.4" r="3.6" fill="#2ad24f"/>
<circle cx="780.3" cy="642.2" r="3.6" fill="#ff3a4a"/>
<circle cx="799.4" cy="657.8" r="3.6" fill="#ff3a4a"/>
<circle cx="810.5" cy="688.6" r="3.6" fill="#ff3a4a"/>
<circle cx="808.4" cy="695.3" r="3.6" fill="#ff3a4a"/>
<circle cx="883.7" cy="698.0" r="3.6" fill="#ff3a4a"/>
<circle cx="817.1" cy="708.9" r="3.6" fill="#ff3a4a"/>
<circle cx="897.5" cy="712.4" r="3.6" fill="#ff3a4a"/>
<circle cx="821.9" cy="718.7" r="3.6" fill="#ff3a4a"/>
<circle cx="794.2" cy="723.3" r="3.6" fill="#ff3a4a"/>
<circle cx="838.8" cy="721.4" r="3.6" fill="#ff3a4a"/>
<circle cx="882.4" cy="721.4" r="3.6" fill="#ff3a4a"/>
<circle cx="827.2" cy="724.5" r="3.6" fill="#ff3a4a"/>
<circle cx="814.6" cy="729.7" r="3.6" fill="#ff3a4a"/>
<circle cx="824.7" cy="730.2" r="3.6" fill="#ff3a4a"/>
<circle cx="831.5" cy="729.8" r="3.6" fill="#ff3a4a"/>
<circle cx="879.1" cy="727.7" r="3.6" fill="#ff3a4a"/>
<circle cx="876.2" cy="742.7" r="3.6" fill="#ff3a4a"/>
<circle cx="845.9" cy="746.0" r="3.6" fill="#ff3a4a"/>
<circle cx="884.9" cy="746.0" r="3.6" fill="#ff3a4a"/>
<circle cx="890.1" cy="746.0" r="3.6" fill="#ff3a4a"/>
<circle cx="780.3" cy="751.4" r="3.6" fill="#ff3a4a"/>
<circle cx="865.8" cy="752.8" r="3.6" fill="#ff3a4a"/>
<circle cx="888.1" cy="753.3" r="3.6" fill="#ff3a4a"/>
<circle cx="803.1" cy="766.5" r="3.6" fill="#ff3a4a"/>
<circle cx="844.4" cy="781.3" r="3.6" fill="#ff3a4a"/>
<circle cx="874.2" cy="786.4" r="3.6" fill="#ff3a4a"/>
<circle cx="801.5" cy="790.4" r="3.6" fill="#ff3a4a"/>
<circle cx="867.7" cy="791.8" r="3.6" fill="#ff3a4a"/>
<circle cx="827.4" cy="813.7" r="3.6" fill="#ff3a4a"/>
<circle cx="883.8" cy="812.3" r="3.6" fill="#ff3a4a"/>
<circle cx="867.3" cy="817.2" r="3.6" fill="#ff3a4a"/>
<circle cx="818.1" cy="824.7" r="3.6" fill="#ff3a4a"/>
<circle cx="834.1" cy="829.4" r="3.6" fill="#ff3a4a"/>
<path d="M 689.8 632.0 L 694.4 636.6 L 689.8 641.2 L 685.1999999999999 636.6 Z" fill="#ffee00"/>
<path d="M 839.7 740.4 L 844.3000000000001 745.0 L 839.7 749.6 L 835.1 745.0 Z" fill="#ffee00"/>
<line x1="689.3" y1="454.5" x2="839.1" y2="454.2" stroke="#000" stroke-width="2"/>
<text x="713.4" y="446.5" font-size="16.5" text-anchor="start" fill="#000" textLength="103" lengthAdjust="spacingAndGlyphs">adj. P &lt; 0.001</text>
<text x="523.0" y="427.9" font-size="24" text-anchor="start" fill="#000" font-weight="bold">D</text>
</svg></body></html>
